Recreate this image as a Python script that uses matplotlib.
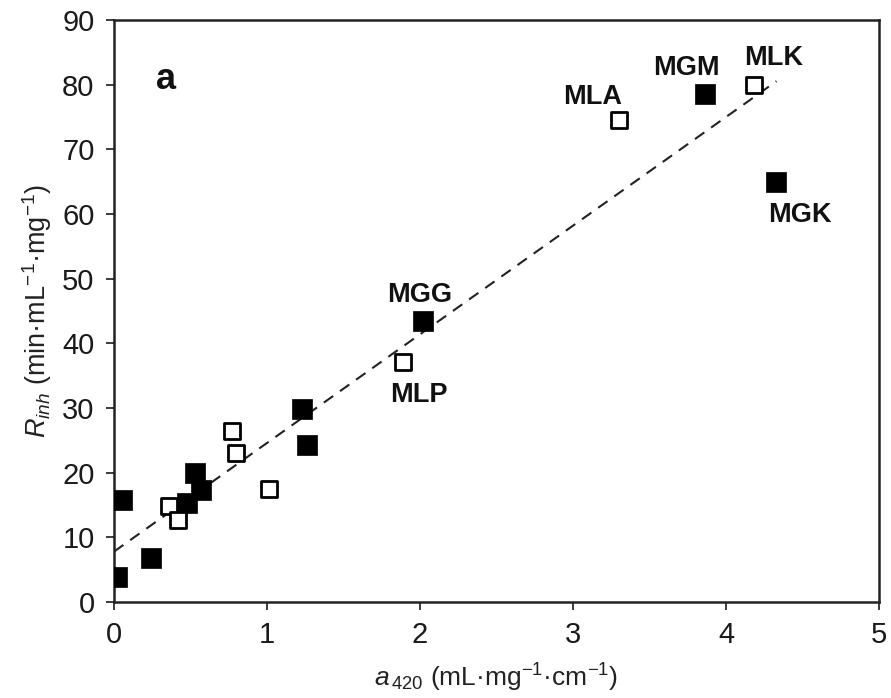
import matplotlib
matplotlib.use("Agg")
import matplotlib.pyplot as plt
import numpy as np

plt.rcParams["font.family"] = ["Liberation Sans", "DejaVu Sans"]
plt.rcParams["mathtext.fontset"] = "custom"
plt.rcParams["mathtext.rm"] = "Liberation Sans"
plt.rcParams["mathtext.it"] = "Liberation Sans:italic"
plt.rcParams["mathtext.bf"] = "Liberation Sans:bold"

# Samples shown as filled squares
filled_x = [0.02, 0.05, 0.24, 0.48, 0.53, 0.57, 1.23, 1.26, 2.02, 3.86, 4.33]
filled_y = [3.9, 15.7, 6.8, 15.3, 20.0, 17.4, 29.8, 24.3, 43.4, 78.6, 65.0]

# Samples shown as open squares
open_x = [0.36, 0.42, 0.77, 0.80, 1.01, 1.89, 3.30, 4.18]
open_y = [14.8, 12.7, 26.4, 23.0, 17.5, 37.1, 74.5, 79.9]

# Named samples and where their labels sit
names = ["MLA", "MGM", "MLK", "MGK", "MGG", "MLP"]
label_x = [3.13, 3.74, 4.31, 4.48, 2.00, 1.99]
label_y = [78.1, 82.6, 84.1, 59.8, 47.5, 32.0]

# Linear trend line
trend_intercept = 7.8
trend_slope = 16.8
trend_range = [0.0, 4.33]

x_ticks = [0, 1, 2, 3, 4, 5]
y_ticks = [0, 10, 20, 30, 40, 50, 60, 70, 80, 90]

fig = plt.figure(figsize=(8.91, 6.98), dpi=100)
ax = fig.add_axes([0.128, 0.1375, 0.8585, 0.8338])

tx = np.array(trend_range)
ax.plot(tx, trend_intercept + trend_slope * tx, linestyle=(0, (5.5, 4)),
        color="#222222", linewidth=1.5, zorder=2)

ax.scatter(filled_x, filled_y, marker="s", s=200, color="black",
           edgecolors="black", linewidths=0.5, zorder=3)
ax.scatter(open_x, open_y, marker="s", s=120, facecolors="white",
           edgecolors="black", linewidths=2.0, zorder=3)

for n, lx, ly in zip(names, label_x, label_y):
    ax.text(lx, ly, n, ha="center", va="center", fontsize=19.5,
            fontweight="bold", color="#111111", zorder=4)

ax.text(0.34, 80.8, "a", ha="center", va="center", fontsize=26,
        fontweight="bold", color="#111111")

ax.set_xlim(0, 5)
ax.set_ylim(0, 90)
ax.set_xticks(x_ticks)
ax.set_yticks(y_ticks)
ax.tick_params(axis="both", direction="out", length=6, width=1.2,
               labelsize=21, colors="#1a1a1a", pad=8)
ax.tick_params(top=False, right=False)
for sp in ax.spines.values():
    sp.set_linewidth(1.8)
    sp.set_color("#222222")

ax.set_xlabel(r"$\mathit{a}_{\,\mathit{420}}$ (mL·mg$^{\mathrm{-1}}$·cm$^{\mathrm{-1}}$)",
              fontsize=19, labelpad=9, color="#222222")
ax.set_ylabel(r"$\mathit{R}_{\mathit{inh}}$ (min·mL$^{\mathrm{-1}}$·mg$^{\mathrm{-1}}$)",
              fontsize=19.5, labelpad=6, color="#222222")

fig.savefig("out.png", dpi=100)
